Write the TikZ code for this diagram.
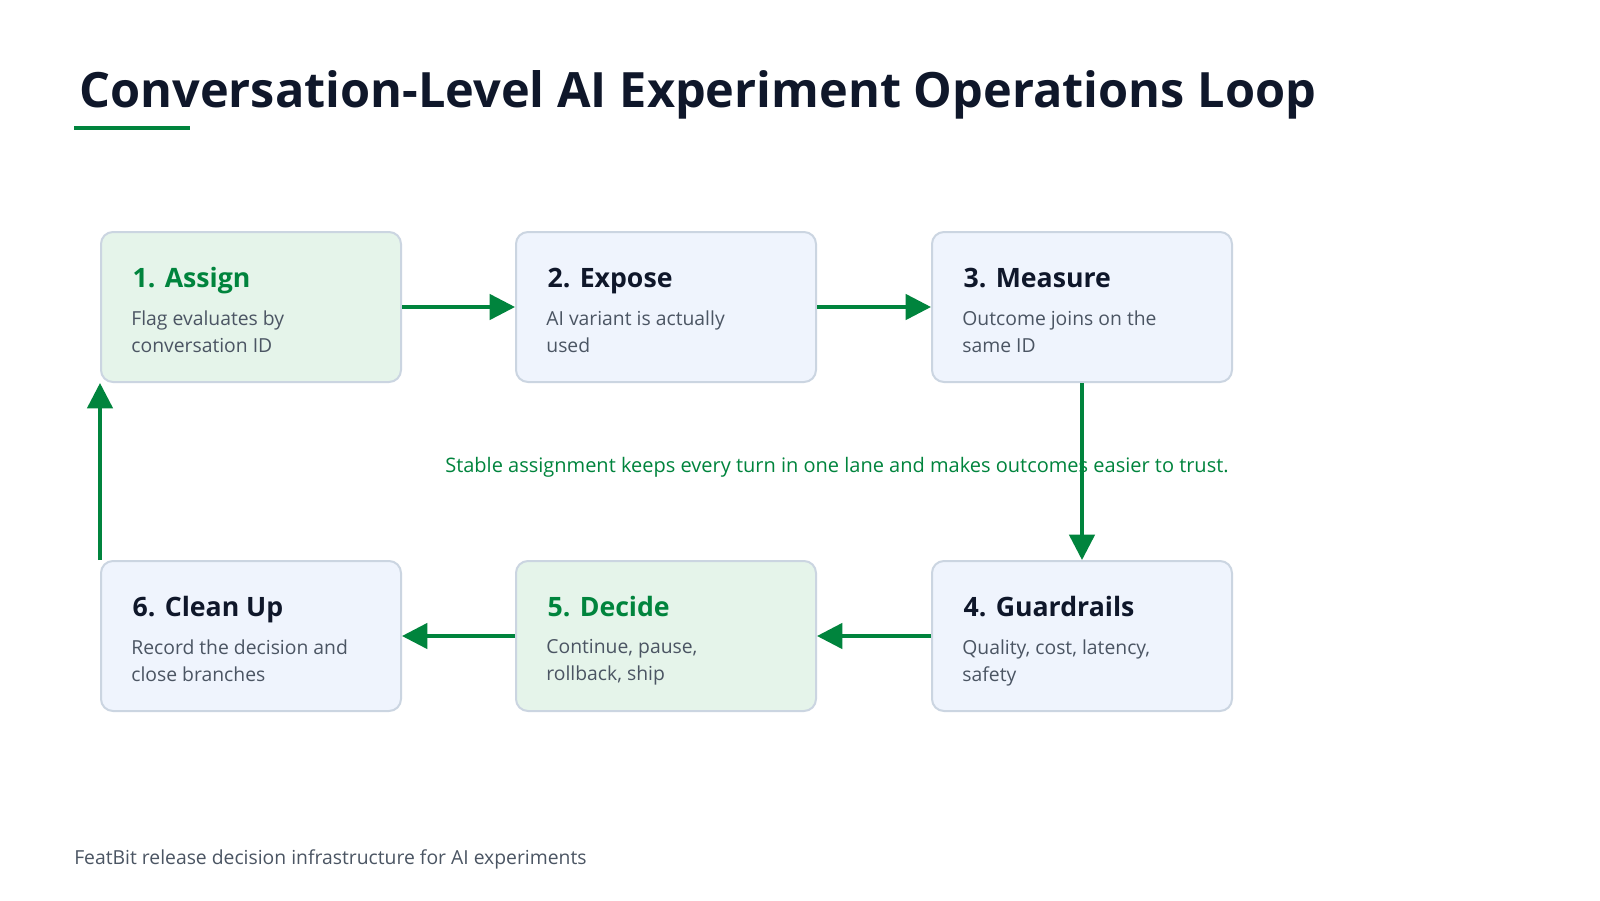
\documentclass[tikz,border=0pt]{standalone}
\usepackage{fontspec}
\setmainfont{Open Sans}
\usetikzlibrary{arrows.meta}
\definecolor{grn}{HTML}{00843D}
\definecolor{bfill}{HTML}{EFF4FD}
\definecolor{gfill}{HTML}{E5F4EA}
\definecolor{bdr}{HTML}{CBD5E1}
\definecolor{ttl}{HTML}{0F172A}
\definecolor{bodyc}{HTML}{4B5563}
\tikzset{
 card/.style={draw=bdr,line width=1.5pt,fill=bfill,rounded corners=9pt,minimum width=225pt,minimum height=112.5pt,anchor=north west},
 gcard/.style={card,fill=gfill},
 ctitle/.style={anchor=base west,font=\fontsize{20}{24}\selectfont\bfseries,text=ttl},
 cbody/.style={anchor=north west,font=\fontsize{14.5}{20.5}\selectfont,text=bodyc,align=left},
 flow/.style={draw=grn,line width=2.6pt,-{Triangle[length=19pt,width=19pt]}}
}
\begin{document}
\begin{tikzpicture}[x=0.75pt,y=-0.75pt]
\useasboundingbox[fill=white] (0,0) rectangle (1600,900);
\node[anchor=base west,font=\fontsize{36.5}{44}\selectfont\bfseries,text=ttl,inner xsep=0pt] (title) at (79,107) {Conversation-Level AI Experiment Operations Loop};
\draw[grn,line width=3pt] (74,128) coordinate (u1) -- (190,128) coordinate (u2);
\newcommand\card[6]{%
 \node[#1] (#2) at (#3,#4) {};
 \node[ctitle,text=#5] (#2t) at ([xshift=21pt,yshift=-42pt]#2.north west) {#6};
}
\card{gcard}{b1}{100}{231}{grn}{1. Assign}
\card{card}{b2}{515}{231}{ttl}{2. Expose}
\card{card}{b3}{931}{231}{ttl}{3. Measure}
\card{card}{b6}{100}{560}{ttl}{6. Clean Up}
\card{gcard}{b5}{515}{560}{grn}{5. Decide}
\card{card}{b4}{931}{560}{ttl}{4. Guardrails}
\node[cbody] (b1d) at ([xshift=20pt,yshift=-56pt]b1.north west) {Flag evaluates by\\conversation ID};
\node[cbody] (b2d) at ([xshift=20pt,yshift=-56pt]b2.north west) {AI variant is actually\\used};
\node[cbody] (b3d) at ([xshift=20pt,yshift=-56pt]b3.north west) {Outcome joins on the\\same ID};
\node[cbody] (b4d) at ([xshift=20pt,yshift=-56pt]b4.north west) {Quality, cost, latency,\\safety};
\node[cbody] (b5d) at ([xshift=20pt,yshift=-56pt]b5.north west) {Continue, pause,\\rollback, ship};
\node[cbody] (b6d) at ([xshift=20pt,yshift=-56pt]b6.north west) {Record the decision and\\close branches};
\node[font=\fontsize{15}{18}\selectfont,text=grn] (note) at (837,467) {Stable assignment keeps every turn in one lane and makes outcomes easier to trust.};
\draw[flow] (b1.east) -- (b2.west);
\draw[flow] (b2.east) -- (b3.west);
\draw[flow] (b3.south) -- (b4.north);
\draw[flow] (b4.west) -- (b5.east);
\draw[flow] (b5.west) -- (b6.east);
\draw[flow] (b6.north west) -- (b1.south west);
\node[anchor=base west,font=\fontsize{14.5}{18}\selectfont,text=bodyc,inner xsep=0pt] (foot) at (74,864) {FeatBit release decision infrastructure for AI experiments};
\end{tikzpicture}
\end{document}
